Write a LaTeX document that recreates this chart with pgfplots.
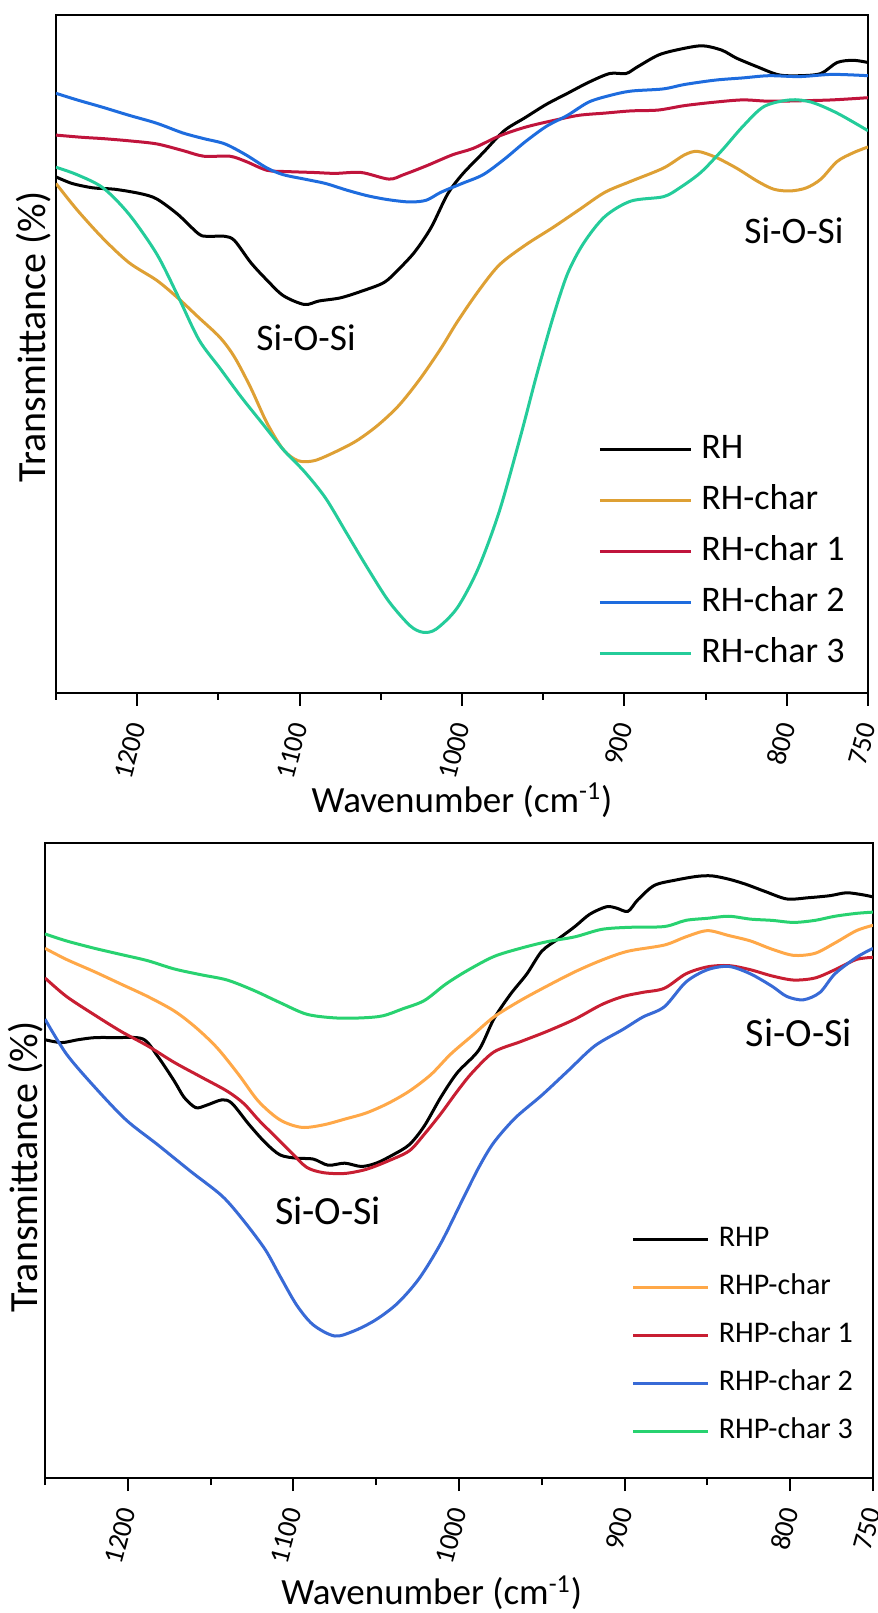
\documentclass[border=0pt]{standalone}
\usepackage{fontspec}
\setmainfont{Carlito}
\usepackage{pgfplots}
\pgfplotsset{compat=1.18}

\definecolor{rhchar}{RGB}{222,160,52}
\definecolor{rhcharA}{RGB}{192,20,60}
\definecolor{rhcharB}{RGB}{30,108,222}
\definecolor{rhcharC}{RGB}{36,204,154}
\definecolor{rhpchar}{RGB}{255,168,72}
\definecolor{rhpcharA}{RGB}{200,30,50}
\definecolor{rhpcharB}{RGB}{56,106,214}
\definecolor{rhpcharC}{RGB}{40,210,112}

\pgfplotsset{
  ftir/.style={
    scale only axis, x dir=reverse,
    xmin=750, xmax=1250, ymin=0,
    xtick={750,800,900,1000,1100,1200},
    minor xtick={850,950,1050,1150,1250},
    xtick pos=bottom, ytick=\empty,
    tick align=outside,
    major tick length=6.5pt, minor tick length=3.5pt,
    axis line style={line width=1pt},
    every tick/.style={black, line width=1pt},
    every minor tick/.style={black, line width=1pt},
    xticklabel style={rotate=75, anchor=east, inner sep=0pt,
      font=\fontsize{14}{14}\selectfont},
    xticklabel shift=8.5pt,
    /pgf/number format/assume math mode=true,
    /pgf/number format/1000 sep={},
    every axis plot/.append style={line width=1.5pt, smooth},
    xlabel style={font=\fontsize{18.5}{18.5}\selectfont},
    ylabel style={font=\fontsize{20}{20}\selectfont},
    legend cell align=left,
  }
}

\begin{document}
\begin{tikzpicture}
\useasboundingbox (0,0) rectangle (439pt,806.5pt);

% ---- panel A
\begin{axis}[ftir,
  at={(28pt,460pt)}, anchor=south west,
  width=406pt, height=339pt, ymax=1541,
  xlabel={Wavenumber (cm\textsuperscript{-1})},
  ylabel={Transmittance (\%)},
  xlabel style={at={(axis description cs:0.5,-0.158)}, anchor=center},
  ylabel style={at={(axis description cs:-0.028,0.525)}, anchor=center},
  legend image code/.code={\draw[#1] (0pt,0pt) -- (45.5pt,0pt); \path (50pt,0pt);},
  legend style={at={(axis description cs:0.660,0.388)}, anchor=north west,
    draw=none, fill=none, font=\fontsize{18}{18}\selectfont,
    nodes={inner sep=0pt, text height=12pt, text depth=3pt}, row sep=10.5pt},
]
\addplot[black] coordinates {
(1250,1173) (1240,1158) (1227,1148) (1214,1145) (1198,1135) (1188,1123)
(1175,1088) (1162,1043) (1156,1038) (1146,1038) (1140,1028) (1130,978)
(1120,938) (1110,903) (1097,883) (1088,891) (1075,898) (1062,913)
(1048,933) (1039,963) (1029,1003) (1019,1058) (1009,1133) (1000,1178)
(987,1228) (974,1278) (961,1308) (948,1338) (935,1363) (922,1388)
(909,1408) (899,1408) (892,1423) (879,1450) (866,1463) (852,1471)
(840,1461) (831,1443) (818,1423) (805,1405) (792,1403) (779,1408)
(769,1433) (759,1438) (750,1433)
};
\addlegendentry{RH}
\addplot[rhchar] coordinates {
(1250,1158) (1237,1098) (1221,1033) (1205,978) (1188,938) (1175,898)
(1162,853) (1149,808) (1140,763) (1130,693) (1120,613) (1110,553)
(1101,528) (1091,528) (1078,548) (1065,573) (1052,608) (1039,653)
(1026,713) (1013,783) (1003,843) (990,913) (977,973) (961,1018)
(944,1058) (928,1098) (912,1138) (896,1163) (876,1193) (863,1223)
(855,1231) (844,1218) (831,1193) (818,1163) (808,1145) (798,1141)
(788,1148) (779,1168) (769,1208) (759,1228) (750,1241)
};
\addlegendentry{RH-char}
\addplot[rhcharA] coordinates {
(1250,1268) (1234,1263) (1221,1260) (1205,1255) (1188,1248) (1172,1233)
(1159,1220) (1143,1220) (1133,1208) (1120,1188) (1107,1185) (1091,1183)
(1078,1181) (1062,1183) (1045,1168) (1036,1178) (1022,1198) (1006,1223)
(993,1238) (977,1266) (961,1286) (944,1301) (928,1313) (912,1318)
(896,1323) (879,1325) (863,1335) (844,1343) (827,1348) (811,1345)
(792,1346) (772,1348) (750,1353)
};
\addlegendentry{RH-char 1}
\addplot[rhcharB] coordinates {
(1250,1363) (1237,1348) (1221,1331) (1205,1313) (1188,1295) (1172,1273)
(1159,1260) (1146,1248) (1133,1223) (1120,1193) (1110,1178) (1097,1168)
(1084,1158) (1071,1143) (1058,1130) (1045,1121) (1032,1116) (1022,1120)
(1013,1138) (1000,1158) (987,1178) (974,1213) (961,1253) (948,1288)
(935,1313) (922,1343) (909,1358) (896,1368) (876,1373) (863,1383)
(844,1393) (827,1398) (811,1403) (792,1401) (772,1406) (750,1403)
};
\addlegendentry{RH-char 2}
\addplot[rhcharC] coordinates {
(1250,1195) (1237,1178) (1221,1148) (1205,1088) (1188,998) (1175,903)
(1162,803) (1149,738) (1136,673) (1123,613) (1110,553) (1097,503)
(1084,443) (1071,363) (1058,283) (1045,208) (1032,153) (1024,138)
(1016,145) (1003,193) (990,283) (977,413) (964,583) (954,723)
(944,853) (935,953) (925,1023) (912,1083) (896,1118) (876,1128)
(866,1148) (853,1183) (840,1233) (827,1288) (814,1333) (798,1348)
(785,1343) (769,1318) (750,1278)
};
\addlegendentry{RH-char 3}
\node[font=\fontsize{18.7}{18.7}\selectfont] at (axis cs:1096,808) {Si-O-Si};
\node[font=\fontsize{18.7}{18.7}\selectfont] at (axis cs:795.6,1051) {Si-O-Si};
\node[font=\fontsize{21}{21}\selectfont] at (axis description cs:-0.032,0.032) {A};
\end{axis}

% ---- panel B
\begin{axis}[ftir,
  at={(22.5pt,67.5pt)}, anchor=south west,
  width=414pt, height=317.5pt, ymax=1543,
  xlabel={Wavenumber (cm\textsuperscript{-1})},
  ylabel={Transmittance (\%)},
  xlabel style={at={(axis description cs:0.467,-0.181)}, anchor=center},
  ylabel style={at={(axis description cs:-0.023,0.49)}, anchor=center},
  legend image code/.code={\draw[#1] (0pt,0pt) -- (37.5pt,0pt); \path (42pt,0pt);},
  legend style={at={(axis description cs:0.701,0.403)}, anchor=north west,
    draw=none, fill=none, font=\fontsize{15}{15}\selectfont,
    nodes={inner sep=0pt, text height=10pt, text depth=3pt}, row sep=11pt},
]
\addplot[black] coordinates {
(1250,1065) (1240,1058) (1230,1065) (1220,1070) (1208,1070) (1191,1067)
(1182,1025) (1172,965) (1166,925) (1159,900) (1153,905) (1143,919)
(1137,910) (1127,860) (1117,815) (1108,785) (1098,777) (1088,775)
(1079,760) (1069,765) (1059,757) (1050,765) (1040,785) (1030,810)
(1021,855) (1011,925) (1001,985) (988,1040) (979,1115) (969,1175)
(959,1225) (950,1280) (940,1310) (930,1340) (921,1370) (911,1388)
(905,1385) (898,1377) (892,1405) (882,1440) (869,1453) (856,1462)
(847,1463) (837,1455) (827,1443) (815,1425) (802,1407) (789,1410)
(776,1415) (766,1422) (756,1417) (750,1412)
};
\addlegendentry{RHP}
\addplot[rhpchar] coordinates {
(1250,1287) (1237,1260) (1220,1230) (1204,1200) (1188,1170) (1172,1135)
(1159,1095) (1146,1045) (1133,980) (1121,915) (1108,870) (1095,852)
(1082,858) (1069,872) (1056,887) (1043,910) (1030,940) (1017,980)
(1005,1030) (992,1075) (979,1120) (963,1160) (947,1195) (930,1230)
(914,1258) (898,1280) (876,1295) (863,1315) (850,1330) (837,1318)
(824,1305) (811,1285) (798,1270) (785,1275) (773,1300) (760,1330)
(750,1343)
};
\addlegendentry{RHP-char}
\addplot[rhpcharA] coordinates {
(1250,1215) (1237,1170) (1220,1125) (1204,1085) (1188,1050) (1172,1010)
(1156,975) (1140,940) (1130,910) (1121,870) (1111,830) (1101,790)
(1092,755) (1082,742) (1069,740) (1056,750) (1043,770) (1030,795)
(1021,835) (1011,885) (1001,940) (992,985) (979,1035) (963,1060)
(947,1085) (930,1115) (914,1150) (901,1170) (889,1180) (876,1190)
(863,1225) (850,1242) (837,1245) (824,1235) (811,1220) (798,1210)
(785,1215) (773,1235) (760,1260) (750,1265)
};
\addlegendentry{RHP-char 1}
\addplot[rhpcharB] coordinates {
(1250,1115) (1237,1030) (1220,950) (1201,870) (1182,810) (1162,745)
(1143,685) (1130,625) (1117,555) (1108,490) (1098,420) (1088,372)
(1075,345) (1063,358) (1050,385) (1037,425) (1024,485) (1011,570)
(998,675) (988,755) (979,815) (966,875) (950,930) (934,990)
(918,1050) (901,1090) (889,1120) (876,1145) (863,1205) (850,1235)
(837,1243) (824,1225) (811,1195) (802,1170) (792,1162) (782,1180)
(773,1225) (760,1265) (750,1287)
};
\addlegendentry{RHP-char 2}
\addplot[rhpcharC] coordinates {
(1250,1322) (1237,1305) (1220,1287) (1204,1272) (1188,1257) (1172,1237)
(1156,1223) (1140,1210) (1124,1185) (1108,1155) (1092,1127) (1075,1118)
(1059,1118) (1046,1123) (1034,1140) (1021,1160) (1008,1200) (995,1233)
(979,1267) (963,1287) (947,1303) (930,1315) (914,1333) (898,1338)
(876,1340) (863,1355) (850,1360) (837,1365) (824,1358) (811,1355)
(798,1350) (785,1355) (773,1365) (760,1372) (750,1375)
};
\addlegendentry{RHP-char 3}
\node[font=\fontsize{20}{20}\selectfont] at (axis cs:1079,649) {Si-O-Si};
\node[font=\fontsize{20}{20}\selectfont] at (axis cs:794.7,1081) {Si-O-Si};
\node[font=\fontsize{22}{22}\selectfont] at (axis description cs:-0.034,0.047) {B};
\end{axis}
\end{tikzpicture}
\end{document}
